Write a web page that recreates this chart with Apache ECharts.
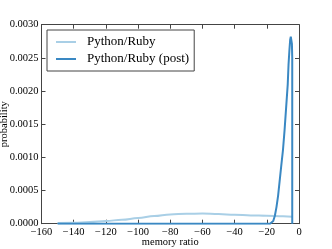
<!DOCTYPE html>
<html><head><meta charset="utf-8">
<script src="https://cdn.jsdelivr.net/npm/echarts@6/dist/echarts.min.js"></script>
<style>html,body{margin:0;padding:0;background:#fff}#c{width:332px;height:249px}</style>
</head><body><div id="c"></div>
<script>
var seriesNames = ['Python/Ruby', 'Python/Ruby (post)'];
var priorX = [-150, -140, -130, -120, -110, -100, -90, -80, -70, -60, -50, -40, -30, -20, -10, -4];
var priorY = [0.000010, 0.000015, 0.000025, 0.000040, 0.000060, 0.000085, 0.000115, 0.000140, 0.000150, 0.000152, 0.000145, 0.000135, 0.000125, 0.000120, 0.000112, 0.000105];
var postX = [-150, -18, -17, -16, -15, -14, -13, -12, -11, -10, -9, -8, -7, -6.5, -6, -5.5, -5.1, -4.7, -4.4, -4.2, -4.2];
var postY = [0, 0, 0.00001, 0.00004, 0.00012, 0.00025, 0.00042, 0.00065, 0.00088, 0.0011, 0.0014, 0.00175, 0.0021, 0.0024, 0.0026, 0.00277, 0.00282, 0.00279, 0.00271, 0.0025, 0];
var xTicks = [-160, -140, -120, -100, -80, -60, -40, -20, 0];
var yTicks = [0, 0.0005, 0.0010, 0.0015, 0.0020, 0.0025, 0.0030];

function pairs(xs, ys){ return xs.map(function(x,i){ return [x, ys[i]]; }); }
var font = 'Liberation Serif';
var frame = '#444';
var chart = echarts.init(document.getElementById('c'), null, {renderer:'canvas'});
var axisCommon = {
  axisLine:{show:true, onZero:false, lineStyle:{color:frame, width:1}},
  axisTick:{show:true, inside:true, length:4, lineStyle:{color:frame}},
  splitLine:{show:false}
};
chart.setOption({
  animation:false,
  backgroundColor:'#fff',
  textStyle:{fontFamily:font},
  grid:{left:41.5, right:33, top:24.7, bottom:25.3, containLabel:false, outerBoundsMode:'none'},
  legend:{
    orient:'vertical', left:47, top:30,
    data:seriesNames.map(function(n){ return {name:n, icon:'rect'}; }),
    borderColor:frame, borderWidth:1, borderRadius:0,
    padding:[5,5,5,9], itemGap:3, itemWidth:20, itemHeight:2,
    textStyle:{fontFamily:font, fontSize:13, lineHeight:14, color:'#000', padding:[0,0,0,6]}
  },
  xAxis:[
    Object.assign({type:'value', min:xTicks[0], max:xTicks[xTicks.length-1], interval:20, position:'bottom',
      name:'memory ratio', nameLocation:'middle', nameGap:13, nameMoveOverlap:false,
      nameTextStyle:{fontFamily:font, fontSize:10.5, color:'#000', lineHeight:11},
      axisLabel:{fontFamily:font, fontSize:10.5, color:'#000', margin:3,
        formatter:function(v){ return String(v).replace('-', '\u2212'); }}}, axisCommon),
    Object.assign({type:'value', min:xTicks[0], max:xTicks[xTicks.length-1], interval:20, position:'top',
      axisLabel:{show:false}}, axisCommon)
  ],
  yAxis:[
    Object.assign({type:'value', min:yTicks[0], max:yTicks[yTicks.length-1], interval:0.0005, position:'left',
      name:'probability', nameLocation:'middle', nameGap:32, nameRotate:90, nameMoveOverlap:false,
      nameTextStyle:{fontFamily:font, fontSize:10.5, color:'#000', lineHeight:11},
      axisLabel:{fontFamily:font, fontSize:10.5, color:'#000', margin:3,
        formatter:function(v){ return v.toFixed(4); }}}, axisCommon),
    Object.assign({type:'value', min:yTicks[0], max:yTicks[yTicks.length-1], interval:0.0005, position:'right',
      axisLabel:{show:false}}, axisCommon)
  ],
  series:[
    {name:seriesNames[0], type:'line', data:pairs(priorX, priorY), symbol:'none', smooth:0.4, smoothMonotone:'x',
      lineStyle:{color:'#a9cfe6', width:2}, itemStyle:{color:'#a9cfe6'}, z:2},
    {name:seriesNames[1], type:'line', data:pairs(postX, postY), symbol:'none', smooth:false,
      lineStyle:{color:'#3a88c3', width:2}, itemStyle:{color:'#3a88c3'}, z:3}
  ]
});
</script></body></html>
